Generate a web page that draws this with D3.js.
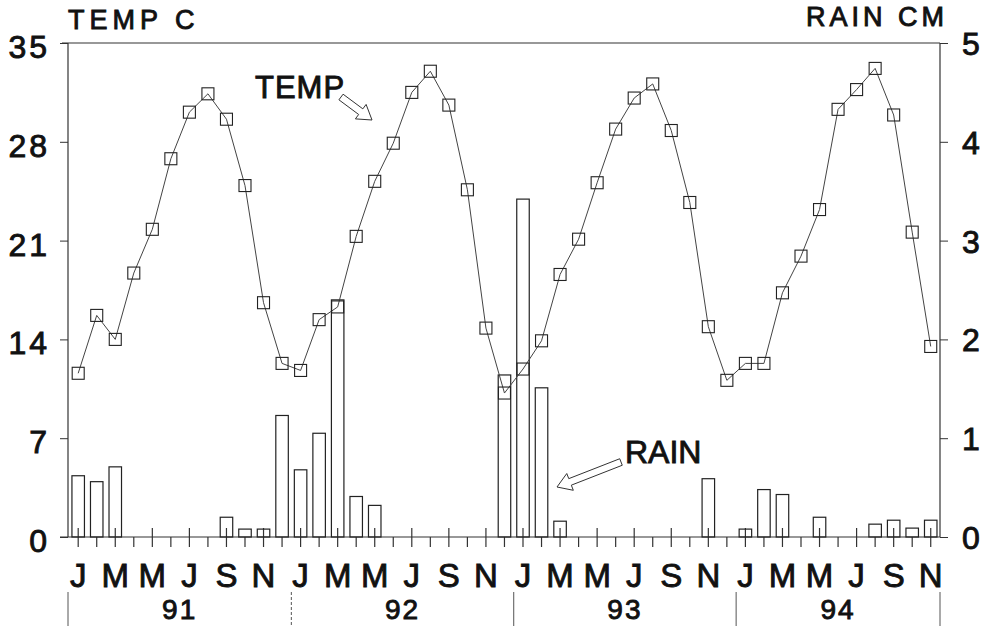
<!DOCTYPE html>
<html>
<head>
  <script src="https://d3js.org/d3.v7.min.js"></script>
  <style>
    body { margin: 0; background: #fff; }
    svg text { font-family: "Liberation Sans", Arial, sans-serif; fill: #111; stroke: #111; stroke-width: 0.9px; }
  </style>
</head>
<body>
<div id="chart"></div>
<script>

// monthly temperature (C), jan 91 .. nov 94
var temps = [
  11.6, 15.7, 14.0, 18.7, 21.8, 26.8, 30.1, 31.4, 29.6, 24.9, 16.6, 12.3,
  11.8, 15.4, 16.3, 21.3, 25.2, 27.9, 31.5, 33.0, 30.6, 24.6, 14.8, 10.2,
  11.9, 13.9, 18.6, 21.1, 25.1, 28.9, 31.1, 32.1, 28.8, 23.7, 14.9, 11.1,
  12.3, 12.3, 17.3, 19.9, 23.2, 30.3, 31.7, 33.2, 29.9, 21.6, 13.5
];

// monthly rain (cm)
var rain = [
  0.62, 0.56, 0.71, 0, 0, 0, 0, 0, 0.20, 0.08, 0.08, 1.23,
  0.68, 1.05, 2.40, 0.41, 0.32, 0, 0, 0, 0, 0, 0, 1.64,
  3.42, 1.51, 0.16, 0, 0, 0, 0, 0, 0, 0, 0.59, 0,
  0.08, 0.48, 0.43, 0, 0.20, 0, 0, 0.13, 0.17, 0.09, 0.17
];

var monthLetters = ["J", "F", "M", "A", "M", "J", "J", "A", "S", "O", "N", "D"];
var years = ["91", "92", "93", "94"];
var tempTicks = [0, 7, 14, 21, 28, 35];
var rainTicks = [0, 1, 2, 3, 4, 5];

var width = 988, height = 626;
var plotLeft = 68, plotRight = 940, plotTop = 43, plotBase = 537;

var svg = d3.select("#chart")
  .append("svg")
  .attr("width", width)
  .attr("height", height);

var x = d3.scaleLinear().domain([-0.55, 46.5]).range([plotLeft, plotRight]);
var yT = d3.scaleLinear().domain([0, 35]).range([plotBase, plotTop]);
var yR = d3.scaleLinear().domain([0, 5]).range([plotBase, plotTop]);
var barW = 12.5;

// frame: top line, left and right axis lines, baseline
svg.append("line")
  .attr("x1", 62).attr("x2", plotRight).attr("y1", plotTop).attr("y2", plotTop)
  .attr("stroke", "#333").attr("stroke-width", 1.2);
svg.append("line")
  .attr("x1", plotLeft).attr("x2", plotLeft).attr("y1", plotTop).attr("y2", plotBase)
  .attr("stroke", "#333").attr("stroke-width", 1.2);
svg.append("line")
  .attr("x1", plotRight).attr("x2", plotRight).attr("y1", plotTop).attr("y2", plotBase)
  .attr("stroke", "#333").attr("stroke-width", 1.2);
svg.append("line")
  .attr("x1", 60).attr("x2", plotRight).attr("y1", plotBase).attr("y2", plotBase)
  .attr("stroke", "#333").attr("stroke-width", 1.2);

// left axis
var axisL = svg.append("g")
  .attr("transform", "translate(" + plotLeft + ",0)")
  .call(d3.axisLeft(yT).tickValues(tempTicks).tickFormat(d3.format("d")).tickSize(8).tickPadding(10));
axisL.select(".domain").remove();
axisL.selectAll("line").attr("stroke", "#333");
axisL.selectAll("text")
  .attr("font-size", 32)
  .attr("letter-spacing", 3)
  .attr("dy", "0.45em")
  .attr("fill", "#111");

// right axis
var axisR = svg.append("g")
  .attr("transform", "translate(" + plotRight + ",0)")
  .call(d3.axisRight(yR).tickValues(rainTicks).tickFormat(d3.format("d")).tickSize(8).tickPadding(14));
axisR.select(".domain").remove();
axisR.selectAll("line").attr("stroke", "#333");
axisR.selectAll("text")
  .attr("font-size", 32)
  .attr("dy", "0.36em")
  .attr("fill", "#111");

// axis titles
svg.append("text")
  .attr("x", 68).attr("y", 29)
  .attr("font-size", 27)
  .attr("letter-spacing", 5)
  .text("TEMP C");
svg.append("text")
  .attr("x", 948).attr("y", 26)
  .attr("text-anchor", "end")
  .attr("font-size", 27)
  .attr("letter-spacing", 4)
  .text("RAIN CM");

// month ticks on the baseline
var monthIdx = d3.range(temps.length);
svg.append("g")
  .selectAll("line")
  .data(monthIdx)
  .join("line")
  .attr("x1", d => x(d)).attr("x2", d => x(d))
  .attr("y1", d => d % 2 == 0 ? plotBase - 9 : plotBase)
  .attr("y2", plotBase + 10)
  .attr("stroke", "#333")
  .attr("stroke-width", 1.2);

// rain bars
svg.append("g")
  .selectAll("rect")
  .data(monthIdx.filter(d => rain[d] > 0))
  .join("rect")
  .attr("x", d => x(d) - barW / 2)
  .attr("y", d => yR(rain[d]))
  .attr("width", barW)
  .attr("height", d => plotBase - yR(rain[d]))
  .attr("fill", "none")
  .attr("stroke", "#222")
  .attr("stroke-width", 1.2);

// temp line and square markers
var line = d3.line()
  .x((d, i) => x(i))
  .y(d => yT(d));
svg.append("path")
  .datum(temps)
  .attr("d", line)
  .attr("fill", "none")
  .attr("stroke", "#444")
  .attr("stroke-width", 1);

svg.append("g")
  .selectAll("rect")
  .data(temps)
  .join("rect")
  .attr("x", (d, i) => x(i) - 6)
  .attr("y", d => yT(d) - 6)
  .attr("width", 12)
  .attr("height", 12)
  .attr("fill", "none")
  .attr("stroke", "#222")
  .attr("stroke-width", 1.1);

// month letters, every other month
svg.append("g")
  .selectAll("text")
  .data(monthIdx.filter(d => d % 2 == 0))
  .join("text")
  .attr("x", d => x(d))
  .attr("y", 587)
  .attr("text-anchor", "middle")
  .attr("font-size", 33)
  .text(d => monthLetters[d % 12]);

// year separators and labels
var yearEdges = [-0.55, 11.5, 23.5, 35.5, 46.5];
svg.append("g")
  .selectAll("line")
  .data(yearEdges)
  .join("line")
  .attr("x1", d => x(d)).attr("x2", d => x(d))
  .attr("y1", 592).attr("y2", 626)
  .attr("stroke", "#555")
  .attr("stroke-width", 1)
  .attr("stroke-dasharray", (d, i) => i == 1 ? "3,2" : null);

svg.append("g")
  .selectAll("text")
  .data(years)
  .join("text")
  .attr("x", (d, i) => (x(yearEdges[i]) + x(yearEdges[i + 1])) / 2)
  .attr("y", 619)
  .attr("text-anchor", "middle")
  .attr("font-size", 28)
  .attr("letter-spacing", 2)
  .text(d => d);

// hollow block arrow from tail to tip
function arrow(x0, y0, x1, y1) {
  var dx = x1 - x0, dy = y1 - y0, len = Math.sqrt(dx * dx + dy * dy);
  var ux = dx / len, uy = dy / len, nx = -uy, ny = ux;
  var w = 3.5, hw = 9, hl = 14;
  var bx = x1 - ux * hl, by = y1 - uy * hl;
  var pts = [
    [x0 + nx * w, y0 + ny * w],
    [bx + nx * w, by + ny * w],
    [bx + nx * hw, by + ny * hw],
    [x1, y1],
    [bx - nx * hw, by - ny * hw],
    [bx - nx * w, by - ny * w],
    [x0 - nx * w, y0 - ny * w]
  ];
  svg.append("polygon")
    .attr("points", pts.map(p => p.join(",")).join(" "))
    .attr("fill", "none")
    .attr("stroke", "#333")
    .attr("stroke-width", 1);
}

// annotations
svg.append("text")
  .attr("x", 255).attr("y", 98)
  .attr("font-size", 31)
  .attr("letter-spacing", 1)
  .text("TEMP");
arrow(341, 97, 372, 120);

svg.append("text")
  .attr("x", 625).attr("y", 463)
  .attr("font-size", 32)
  .text("RAIN");
arrow(621, 462, 557, 487);

</script>
</body>
</html>
